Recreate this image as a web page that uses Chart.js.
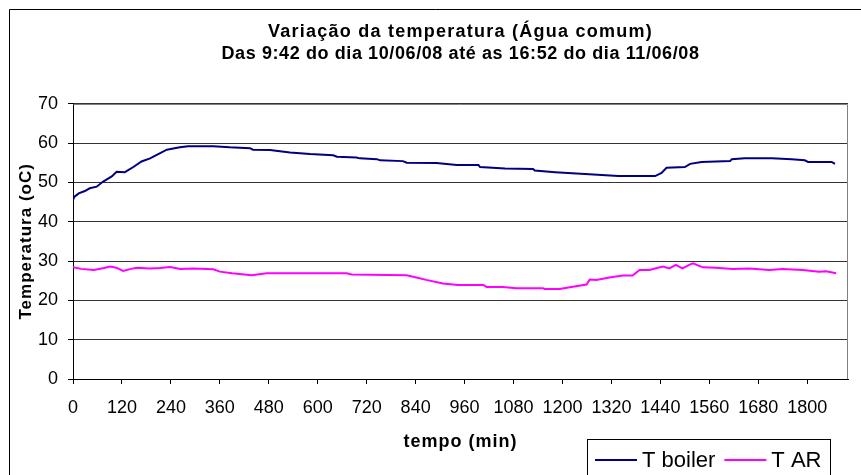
<!DOCTYPE html>
<html>
<head>
<meta charset="utf-8">
<script src="https://cdn.jsdelivr.net/npm/chart.js@4.4.1/dist/chart.umd.min.js"></script>
<style>
  html, body { margin: 0; padding: 0; background: #fff; }
  #wrap { width: 861px; height: 475px; }
</style>
</head>
<body>
<div id="wrap"><canvas id="temp-chart" width="861" height="475"></canvas></div>
<script>
// Titles
const titleText = 'Variação da temperatura (Água comum)';
const subtitleText = 'Das 9:42 do dia 10/06/08 até as 16:52 do dia 11/06/08';
const xTitle = 'tempo (min)';
const yTitle = 'Temperatura (oC)';

// x tick labels (minutes)
const xTickValues = [0, 120, 240, 360, 480, 600, 720, 840, 960, 1080, 1200, 1320, 1440, 1560, 1680, 1800];

// T boiler readings (minutes from start, °C)
const boilerMin = [0, 3, 14, 29, 41, 58, 74, 95, 107, 127, 148, 168, 189, 209, 230, 262, 282, 344, 384, 434,
    441, 483, 532, 581, 638, 647, 695, 703, 745, 753, 809, 818, 891, 941, 994, 998, 1059, 1128, 1132, 1182,
    1255, 1337, 1427, 1443, 1455, 1500, 1513, 1541, 1611, 1615, 1647, 1713, 1762, 1794, 1802, 1860, 1868];
const boilerTemp = [45.5, 46.3, 47.2, 47.8, 48.5, 48.9, 50.2, 51.5, 52.7, 52.6, 53.9, 55.3, 56.1, 57.2, 58.3, 58.9, 59.2, 59.2, 58.9, 58.7,
    58.3, 58.2, 57.6, 57.2, 56.9, 56.5, 56.3, 56.1, 55.9, 55.6, 55.4, 55.0, 54.9, 54.4, 54.4, 53.9, 53.5, 53.4, 53.0, 52.6,
    52.1, 51.6, 51.6, 52.4, 53.7, 53.9, 54.7, 55.2, 55.4, 55.9, 56.1, 56.1, 55.9, 55.6, 55.2, 55.2, 54.7];

// T AR readings (minutes from start, °C)
const arMin = [0, 20, 51, 76, 91, 106, 123, 142, 157, 187, 213, 238, 263, 294, 344, 360, 390, 438, 475, 671,
    683, 818, 842, 866, 907, 944, 1006, 1014, 1054, 1087, 1152, 1156, 1193, 1229, 1259, 1267, 1283, 1315, 1348, 1372,
    1389, 1413, 1446, 1462, 1478, 1494, 1512, 1520, 1544, 1576, 1617, 1658, 1707, 1740, 1789, 1829, 1846, 1871];
const arTemp = [28.4, 28.0, 27.7, 28.2, 28.6, 28.3, 27.5, 28.0, 28.3, 28.1, 28.2, 28.5, 28.0, 28.1, 27.9, 27.3, 26.9, 26.4, 26.9, 26.9,
    26.6, 26.4, 25.8, 25.2, 24.3, 23.9, 23.9, 23.4, 23.4, 23.1, 23.1, 22.9, 22.9, 23.5, 24.0, 25.3, 25.2, 25.8, 26.3, 26.3,
    27.7, 27.7, 28.6, 28.1, 29.0, 28.1, 29.1, 29.4, 28.4, 28.3, 28.0, 28.1, 27.7, 28.0, 27.7, 27.3, 27.4, 26.9];

const seriesNames = ['T boiler', 'T AR'];
const seriesColors = ['#000080', '#FF00FF'];

const FONT = "'Liberation Sans', Arial, sans-serif";

function toPoints(xs, ys) {
    return xs.map((x, i) => ({ x: x, y: ys[i] }));
}

// wrap a draw method so its text gets some letter spacing (Excel-like)
function spaced(obj, method, spacing) {
    if (!obj || obj['__sp_' + method]) return;
    const orig = obj[method];
    obj[method] = function () {
        const c = this.ctx;
        c.save();
        c.letterSpacing = spacing;
        orig.apply(this, arguments);
        c.restore();
    };
    obj['__sp_' + method] = true;
}

const spacingPlugin = {
    id: 'spacing',
    afterLayout(chart) {
        spaced(chart.scales.x, 'drawTitle', '1px');
        spaced(chart.scales.y, 'drawTitle', '1px');
        chart.boxes.forEach(b => {
            if (b.options && b.options.text === titleText) spaced(b, 'draw', '1.25px');
            if (b.options && b.options.text === subtitleText) spaced(b, 'draw', '0.6px');
        });
    }
};

// Outer frame and the grey plot border
const framePlugin = {
    id: 'frame',
    beforeDraw(chart) {
        const ctx = chart.ctx;
        ctx.save();
        ctx.fillStyle = '#fff';
        ctx.fillRect(0, 0, chart.width, chart.height);
        ctx.strokeStyle = '#000';
        ctx.lineWidth = 1;
        ctx.beginPath();
        ctx.moveTo(9.5, chart.height + 2);
        ctx.lineTo(9.5, 9.5);
        ctx.lineTo(chart.width + 2, 9.5);
        ctx.stroke();
        ctx.restore();
    },
    beforeDatasetsDraw(chart) {
        const { ctx, chartArea: a } = chart;
        ctx.save();
        ctx.strokeStyle = '#808080';
        ctx.lineWidth = 1;
        ctx.beginPath();
        ctx.moveTo(Math.round(a.left) + 0.5, Math.round(a.top) + 0.5);
        ctx.lineTo(Math.round(a.right) - 0.5, Math.round(a.top) + 0.5);
        ctx.lineTo(Math.round(a.right) - 0.5, Math.round(a.bottom));
        ctx.stroke();
        ctx.restore();
    }
};

// Boxed legend in the lower right corner
const boxLegendPlugin = {
    id: 'boxLegend',
    afterDraw(chart) {
        const ctx = chart.ctx;
        const ds = chart.data.datasets;
        ctx.save();
        ctx.strokeStyle = '#000';
        ctx.lineWidth = 1;
        ctx.strokeRect(587.5, 439.5, 243, 60);
        ctx.font = '22px ' + FONT;
        ctx.textBaseline = 'middle';
        ctx.fillStyle = '#000';
        let x = 595;
        const y = 460;
        ds.forEach(d => {
            ctx.strokeStyle = d.borderColor;
            ctx.lineWidth = 2;
            ctx.beginPath();
            ctx.moveTo(x, y);
            ctx.lineTo(x + 42, y);
            ctx.stroke();
            ctx.fillText(d.label, x + 47, y + 1);
            x += 47 + ctx.measureText(d.label).width + 9;
        });
        ctx.restore();
    }
};

const chart = new Chart(document.getElementById('temp-chart'), {
    type: 'line',
    data: {
        datasets: [
            { label: seriesNames[0], data: toPoints(boilerMin, boilerTemp), borderColor: seriesColors[0] },
            { label: seriesNames[1], data: toPoints(arMin, arTemp), borderColor: seriesColors[1] }
        ]
    },
    options: {
        responsive: false,
        animation: false,
        layout: { padding: { left: 10, top: 10, right: 13, bottom: 0 } },
        elements: {
            line: { borderWidth: 2, tension: 0, fill: false },
            point: { radius: 0 }
        },
        plugins: {
            legend: { display: false },
            tooltip: { enabled: false },
            title: {
                display: true,
                fullSize: false,
                text: titleText,
                color: '#000',
                font: { family: FONT, size: 18, weight: 'bold', lineHeight: 1.2 },
                padding: { top: 11, bottom: 0 }
            },
            subtitle: {
                display: true,
                fullSize: false,
                text: subtitleText,
                color: '#000',
                font: { family: FONT, size: 18, weight: 'bold', lineHeight: 1.2 },
                padding: { top: 0.5, bottom: 39 }
            }
        },
        scales: {
            x: {
                type: 'linear',
                min: 0,
                max: 1900,
                afterFit(scale) { scale.height = 96; },
                afterBuildTicks(scale) { scale.ticks = xTickValues.map(v => ({ value: v })); },
                ticks: {
                    autoSkip: false,
                    maxRotation: 0,
                    minRotation: 0,
                    padding: 13,
                    color: '#000',
                    font: { family: FONT, size: 18 },
                    callback: v => String(v)
                },
                grid: { drawOnChartArea: false, drawTicks: true, tickLength: 5, color: '#000' },
                border: { display: true, color: '#000', width: 1 },
                title: {
                    display: true,
                    text: xTitle,
                    color: '#000',
                    font: { family: FONT, size: 18, weight: 'bold' },
                    padding: { top: 0, bottom: 22 }
                }
            },
            y: {
                min: 0,
                max: 70,
                afterFit(scale) { scale.width = 63; },
                ticks: {
                    stepSize: 10,
                    padding: 10,
                    color: '#000',
                    font: { family: FONT, size: 18 }
                },
                grid: { color: '#333', tickColor: '#000', tickLength: 5, lineWidth: 1 },
                border: { display: true, color: '#000', width: 1 },
                title: {
                    display: true,
                    text: yTitle,
                    color: '#000',
                    font: { family: FONT, size: 17, weight: 'bold' },
                    padding: { top: 6.5, bottom: 0 }
                }
            }
        }
    },
    plugins: [framePlugin, spacingPlugin, boxLegendPlugin]
});
</script>
</body>
</html>
